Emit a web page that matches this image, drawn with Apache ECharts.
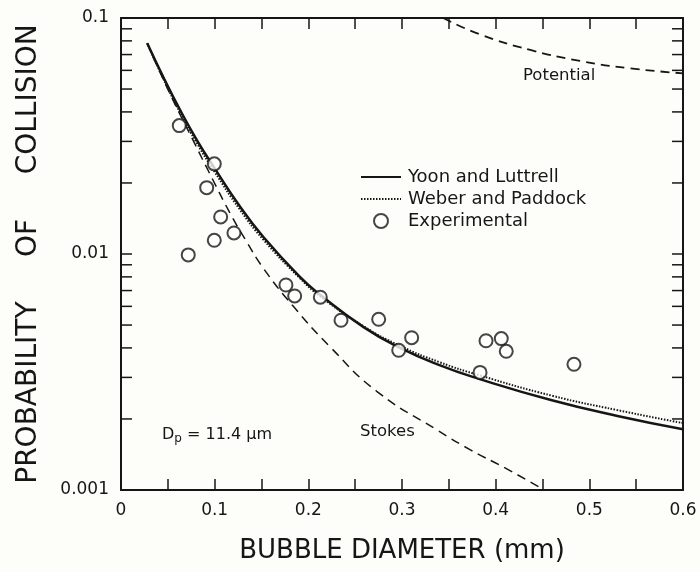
<!DOCTYPE html>
<html>
<head>
<meta charset="utf-8">
<script src="https://cdn.jsdelivr.net/npm/echarts@6/dist/echarts.min.js"></script>
<style>
  html, body { margin: 0; padding: 0; background: #fdfdf9; }
  #chart { width: 700px; height: 572px; }
</style>
</head>
<body>
<div id="chart"></div>
<script>
// Collision probability vs. bubble diameter, particle size 11.4 um

const xTickLabels = ['0', '0.1', '0.2', '0.3', '0.4', '0.5', '0.6'];
const yTickLabels = ['0.001', '0.01', '0.1'];

// [bubble diameter (mm), probability of collision]
const yoonLuttrell = [
  [0.028, 0.0782], [0.045, 0.0564], [0.063, 0.0408], [0.081, 0.0304],
  [0.099, 0.0234], [0.127, 0.0159], [0.152, 0.0118], [0.191, 0.0080],
  [0.213, 0.0067], [0.259, 0.00490], [0.298, 0.00400], [0.340, 0.00338],
  [0.383, 0.00295], [0.460, 0.00240], [0.530, 0.00206], [0.600, 0.00181]
];

const weberPaddock = [
  [0.028, 0.0782], [0.045, 0.0555], [0.063, 0.0398], [0.081, 0.0295],
  [0.099, 0.0226], [0.127, 0.0154], [0.152, 0.0115], [0.191, 0.0079],
  [0.213, 0.0066], [0.259, 0.00494], [0.298, 0.00408], [0.340, 0.00348],
  [0.383, 0.00306], [0.460, 0.00251], [0.530, 0.00218], [0.600, 0.00192]
];

const stokes = [
  [0.028, 0.0782], [0.052, 0.0480], [0.079, 0.0292], [0.094, 0.0222],
  [0.118, 0.0145], [0.134, 0.0113], [0.152, 0.0087], [0.184, 0.0060],
  [0.223, 0.00405], [0.273, 0.00262], [0.337, 0.00180], [0.373, 0.00148],
  [0.410, 0.00124], [0.452, 0.00100]
];

const potential = [
  [0.344, 0.1], [0.383, 0.0853], [0.437, 0.0732], [0.490, 0.0658],
  [0.543, 0.0612], [0.600, 0.0583]
];

const experimental = [
  [0.0622, 0.0350], [0.0996, 0.0241], [0.0915, 0.0191], [0.1064, 0.01435],
  [0.1206, 0.01228], [0.0996, 0.01143], [0.0718, 0.00991], [0.1761, 0.00739],
  [0.1854, 0.00664], [0.2128, 0.00656], [0.2349, 0.00524], [0.2751, 0.00529],
  [0.3103, 0.00442], [0.2965, 0.00391], [0.3897, 0.00429], [0.4060, 0.00438],
  [0.4113, 0.00387], [0.3833, 0.00315], [0.4836, 0.00341]
];

// log-axis tick marks: 1..9 within each decade plus the top value
const yLabelValues = yTickLabels.map(Number);
const yTickValues = [];
for (let d = 0; d < yLabelValues.length - 1; d++) {
  for (let m = 1; m <= 9; m++) yTickValues.push(+(yLabelValues[d] * m).toPrecision(3));
}
yTickValues.push(yLabelValues[yLabelValues.length - 1]);

const X_MIN = Number(xTickLabels[0]);
const X_MAX = Number(xTickLabels[xTickLabels.length - 1]);

const INK = '#161616';
const FONT = 'DejaVu Sans';
const TICK_LEN = 11;

function yLabel(v) {
  const e = Math.round(Math.log10(v));
  const i = yLabelValues.findIndex(t => Math.round(Math.log10(t)) === e);
  return i >= 0 ? yTickLabels[i] : '';
}

// inward tick marks on the left and right frame edges of the log axis
function renderLogTicks(params, api) {
  const v = api.value(1);
  const l = api.coord([X_MIN, v]);
  const r = api.coord([X_MAX, v]);
  const style = { stroke: INK, lineWidth: 1.5 };
  return {
    type: 'group',
    children: [
      { type: 'line', shape: { x1: l[0], y1: l[1], x2: l[0] + TICK_LEN, y2: l[1] }, style },
      { type: 'line', shape: { x1: r[0], y1: r[1], x2: r[0] - TICK_LEN, y2: r[1] }, style }
    ]
  };
}

const axisLineStyle = { show: true, onZero: false, lineStyle: { color: INK, width: 2 } };
const hiddenIconStyle = { color: 'rgba(0,0,0,0)', borderColor: 'rgba(0,0,0,0)', borderWidth: 0 };

const chart = echarts.init(document.getElementById('chart'), null, { renderer: 'canvas' });

chart.setOption({
  backgroundColor: '#fdfdf9',
  animation: false,
  grid: { left: 121, right: 17, top: 18, bottom: 82 },
  legend: {
    left: 360,
    top: 168,
    padding: 0,
    orient: 'vertical',
    itemWidth: 40,
    itemHeight: 14,
    itemGap: 4,
    textStyle: { fontFamily: FONT, fontSize: 18, color: INK, lineHeight: 18, padding: [0, 0, 0, 2] },
    data: [
      { name: 'Yoon and Luttrell', itemStyle: hiddenIconStyle },
      { name: 'Weber and Paddock', itemStyle: hiddenIconStyle },
      { name: 'Experimental', icon: 'emptyCircle' }
    ]
  },
  xAxis: [
    {
      type: 'value', min: X_MIN, max: X_MAX, interval: 0.1,
      axisLine: axisLineStyle,
      axisTick: { show: true, inside: true, length: TICK_LEN, lineStyle: { color: INK, width: 1.5 } },
      minorTick: { show: true, splitNumber: 2, length: TICK_LEN, lineStyle: { color: INK, width: 1.5 } },
      splitLine: { show: false },
      axisLabel: {
        margin: 12, fontFamily: FONT, fontSize: 17, color: INK,
        showMinLabel: true, showMaxLabel: true,
        formatter: v => xTickLabels[Math.round(v * 10)]
      },
      name: 'BUBBLE DIAMETER (mm)',
      nameLocation: 'middle',
      nameGap: 48,
      nameTextStyle: { fontFamily: FONT, fontSize: 26, color: INK }
    },
    {
      type: 'value', min: X_MIN, max: X_MAX, interval: 0.1, position: 'top',
      axisLine: axisLineStyle,
      axisTick: { show: true, inside: true, length: TICK_LEN, lineStyle: { color: INK, width: 1.5 } },
      minorTick: { show: true, splitNumber: 2, length: TICK_LEN, lineStyle: { color: INK, width: 1.5 } },
      splitLine: { show: false },
      axisLabel: { show: false }
    }
  ],
  yAxis: [
    {
      type: 'log', logBase: 10, min: yLabelValues[0], max: yLabelValues[yLabelValues.length - 1],
      position: 'left',
      axisLine: axisLineStyle,
      axisTick: { show: false },
      minorTick: { show: false },
      splitLine: { show: false },
      axisLabel: {
        margin: 12, fontFamily: FONT, fontSize: 17, color: INK,
        customValues: yLabelValues,
        showMinLabel: true, showMaxLabel: true,
        formatter: yLabel
      },
      name: 'PROBABILITY     OF     COLLISION',
      nameLocation: 'middle',
      nameGap: 78,
      nameTextStyle: { fontFamily: FONT, fontSize: 28, color: INK }
    },
    {
      type: 'log', logBase: 10, min: yLabelValues[0], max: yLabelValues[yLabelValues.length - 1],
      position: 'right',
      axisLine: axisLineStyle,
      axisTick: { show: false },
      minorTick: { show: false },
      splitLine: { show: false },
      axisLabel: { show: false }
    }
  ],
  series: [
    {
      name: 'logTicks', type: 'custom', silent: true, z: 6,
      data: yTickValues.map(v => [X_MIN, v]),
      renderItem: renderLogTicks
    },
    {
      name: 'Yoon and Luttrell', type: 'line', data: yoonLuttrell,
      smooth: true, showSymbol: false, symbol: 'none',
      itemStyle: { color: INK },
      lineStyle: { color: INK, width: 2.5 }, z: 4
    },
    {
      name: 'Weber and Paddock', type: 'line', data: weberPaddock,
      smooth: true, showSymbol: false, symbol: 'none',
      itemStyle: { color: INK },
      lineStyle: { color: INK, width: 2, type: [1.5, 1.5] }, z: 3
    },
    {
      name: 'Stokes', type: 'line', data: stokes,
      smooth: true, showSymbol: false, symbol: 'none',
      itemStyle: { color: INK },
      lineStyle: { color: INK, width: 1.5, type: [9, 6] }, z: 2
    },
    {
      name: 'Potential', type: 'line', data: potential,
      smooth: true, showSymbol: false, symbol: 'none',
      itemStyle: { color: INK },
      lineStyle: { color: INK, width: 1.8, type: [9, 6] }, z: 2
    },
    {
      name: 'Experimental', type: 'scatter', data: experimental,
      symbol: 'emptyCircle', symbolSize: 13,
      itemStyle: { color: INK, borderColor: INK, borderWidth: 1.8 }, z: 5
    }
  ],
  graphic: [
    {
      type: 'text', left: 523, top: 67,
      style: { text: 'Potential', font: '16.5px "DejaVu Sans"', fill: INK }
    },
    {
      type: 'text', left: 360, top: 423,
      style: { text: 'Stokes', font: '16.5px "DejaVu Sans"', fill: INK }
    },
    {
      type: 'text', left: 162, top: 427,
      style: {
        text: 'D{s|p} = 11.4 \u03bcm',
        font: '16px "DejaVu Sans"', fill: INK,
        rich: { s: { fontSize: 12, fontFamily: FONT, fill: INK, padding: [8, 0, 0, 0] } }
      }
    }
  ]
});
</script>
</body>
</html>
